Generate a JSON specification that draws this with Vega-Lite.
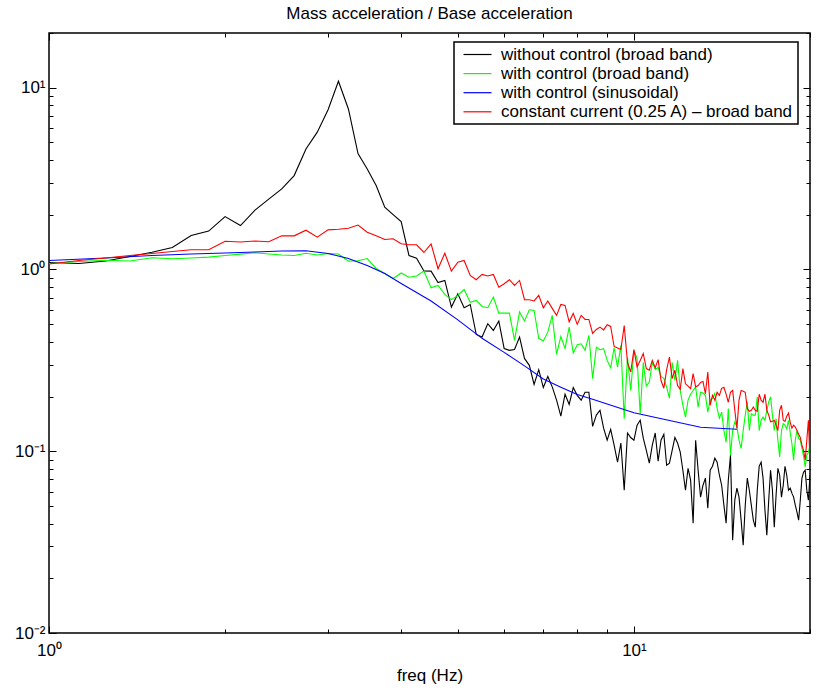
{
"$schema": "https://vega.github.io/schema/vega-lite/v6.json",
"width": 761, "height": 600,
"autosize": {"type": "none"},
"padding": {"left": 49, "top": 33, "right": 7, "bottom": 65},
"background": "white",
"title": {"text": "Mass acceleration / Base acceleration", "fontSize": 17, "font": "Liberation Sans", "fontWeight": "normal", "color": "black", "anchor": "middle", "offset": 10},
"data": {"values": [
{"s":"k","f":1,"v":1.093},{"s":"k","f":1.125,"v":1.079},{"s":"k","f":1.25,"v":1.113},{"s":"k","f":1.375,"v":1.179},{"s":"k","f":1.5,"v":1.245},{"s":"k","f":1.625,"v":1.321},{"s":"k","f":1.75,"v":1.537},{"s":"k","f":1.875,"v":1.627},
{"s":"k","f":2,"v":1.955},{"s":"k","f":2.125,"v":1.745},{"s":"k","f":2.25,"v":2.123},{"s":"k","f":2.375,"v":2.44},{"s":"k","f":2.5,"v":2.776},{"s":"k","f":2.625,"v":3.285},{"s":"k","f":2.75,"v":4.605},{"s":"k","f":2.875,"v":5.694},
{"s":"k","f":3,"v":7.57},{"s":"k","f":3.125,"v":10.86},{"s":"k","f":3.25,"v":7.64},{"s":"k","f":3.375,"v":4.34},{"s":"k","f":3.5,"v":3.575},{"s":"k","f":3.625,"v":2.894},{"s":"k","f":3.75,"v":2.2},{"s":"k","f":3.875,"v":2.005},
{"s":"k","f":4,"v":1.835},{"s":"k","f":4.125,"v":1.194},{"s":"k","f":4.25,"v":1.154},{"s":"k","f":4.375,"v":0.981},{"s":"k","f":4.5,"v":0.979},{"s":"k","f":4.625,"v":0.848},{"s":"k","f":4.75,"v":0.87},{"s":"k","f":4.875,"v":0.621},
{"s":"k","f":5,"v":0.735},{"s":"k","f":5.125,"v":0.616},{"s":"k","f":5.25,"v":0.642},{"s":"k","f":5.375,"v":0.439},{"s":"k","f":5.5,"v":0.425},{"s":"k","f":5.625,"v":0.503},{"s":"k","f":5.75,"v":0.462},{"s":"k","f":5.875,"v":0.52},
{"s":"k","f":6,"v":0.367},{"s":"k","f":6.125,"v":0.359},{"s":"k","f":6.25,"v":0.363},{"s":"k","f":6.375,"v":0.425},{"s":"k","f":6.5,"v":0.324},{"s":"k","f":6.625,"v":0.297},{"s":"k","f":6.75,"v":0.233},{"s":"k","f":6.875,"v":0.281},
{"s":"k","f":7,"v":0.224},{"s":"k","f":7.125,"v":0.258},{"s":"k","f":7.25,"v":0.226},{"s":"k","f":7.375,"v":0.191},{"s":"k","f":7.5,"v":0.156},{"s":"k","f":7.625,"v":0.206},{"s":"k","f":7.75,"v":0.181},{"s":"k","f":7.875,"v":0.224},
{"s":"k","f":8,"v":0.203},{"s":"k","f":8.125,"v":0.191},{"s":"k","f":8.25,"v":0.211},{"s":"k","f":8.375,"v":0.211},{"s":"k","f":8.5,"v":0.137},{"s":"k","f":8.625,"v":0.158},{"s":"k","f":8.75,"v":0.168},{"s":"k","f":8.875,"v":0.134},
{"s":"k","f":9,"v":0.115},{"s":"k","f":9.125,"v":0.132},{"s":"k","f":9.25,"v":0.108},{"s":"k","f":9.375,"v":0.087},{"s":"k","f":9.5,"v":0.111},{"s":"k","f":9.625,"v":0.061},{"s":"k","f":9.75,"v":0.126},{"s":"k","f":9.875,"v":0.119},
{"s":"k","f":10,"v":0.115},{"s":"k","f":10.125,"v":0.139},{"s":"k","f":10.25,"v":0.148},{"s":"k","f":10.375,"v":0.118},{"s":"k","f":10.5,"v":0.101},{"s":"k","f":10.625,"v":0.086},{"s":"k","f":10.75,"v":0.108},{"s":"k","f":10.875,"v":0.126},
{"s":"k","f":11,"v":0.0881},{"s":"k","f":11.125,"v":0.115},{"s":"k","f":11.25,"v":0.124},{"s":"k","f":11.375,"v":0.0838},{"s":"k","f":11.5,"v":0.086},{"s":"k","f":11.625,"v":0.101},{"s":"k","f":11.75,"v":0.119},{"s":"k","f":11.875,"v":0.111},
{"s":"k","f":12,"v":0.0988},{"s":"k","f":12.125,"v":0.0786},{"s":"k","f":12.25,"v":0.061},{"s":"k","f":12.375,"v":0.0806},{"s":"k","f":12.5,"v":0.0693},{"s":"k","f":12.625,"v":0.0402},{"s":"k","f":12.75,"v":0.115},{"s":"k","f":12.875,"v":0.0786},
{"s":"k","f":13,"v":0.0559},{"s":"k","f":13.125,"v":0.065},{"s":"k","f":13.25,"v":0.0711},{"s":"k","f":13.375,"v":0.0486},{"s":"k","f":13.5,"v":0.0786},{"s":"k","f":13.625,"v":0.0827},{"s":"k","f":13.75,"v":0.0915},{"s":"k","f":13.875,"v":0.087},
{"s":"k","f":14,"v":0.0738},{"s":"k","f":14.125,"v":0.065},{"s":"k","f":14.25,"v":0.0505},{"s":"k","f":14.375,"v":0.0402},{"s":"k","f":14.5,"v":0.0693},{"s":"k","f":14.625,"v":0.0951},{"s":"k","f":14.75,"v":0.0324},{"s":"k","f":14.875,"v":0.0538},
{"s":"k","f":15,"v":0.0626},{"s":"k","f":15.125,"v":0.0559},{"s":"k","f":15.25,"v":0.0418},{"s":"k","f":15.375,"v":0.0304},{"s":"k","f":15.5,"v":0.0505},{"s":"k","f":15.625,"v":0.0711},{"s":"k","f":15.75,"v":0.061},{"s":"k","f":15.875,"v":0.0505},
{"s":"k","f":16,"v":0.0418},{"s":"k","f":16.125,"v":0.0382},{"s":"k","f":16.25,"v":0.061},{"s":"k","f":16.375,"v":0.0827},{"s":"k","f":16.5,"v":0.087},{"s":"k","f":16.625,"v":0.0711},{"s":"k","f":16.75,"v":0.0474},{"s":"k","f":16.875,"v":0.0345},
{"s":"k","f":17,"v":0.0538},{"s":"k","f":17.125,"v":0.0786},{"s":"k","f":17.25,"v":0.061},{"s":"k","f":17.375,"v":0.0382},{"s":"k","f":17.5,"v":0.0573},{"s":"k","f":17.625,"v":0.0806},{"s":"k","f":17.75,"v":0.0738},{"s":"k","f":17.875,"v":0.0559},
{"s":"k","f":18,"v":0.065},{"s":"k","f":18.125,"v":0.0827},{"s":"k","f":18.25,"v":0.0738},{"s":"k","f":18.375,"v":0.061},{"s":"k","f":18.5,"v":0.0626},{"s":"k","f":18.625,"v":0.0588},{"s":"k","f":18.75,"v":0.0559},{"s":"k","f":18.875,"v":0.0505},
{"s":"k","f":19,"v":0.0462},{"s":"k","f":19.125,"v":0.0418},{"s":"k","f":19.25,"v":0.0538},{"s":"k","f":19.375,"v":0.0711},{"s":"k","f":19.5,"v":0.0767},{"s":"k","f":19.625,"v":0.0786},{"s":"k","f":19.75,"v":0.061},{"s":"k","f":19.875,"v":0.0538},
{"s":"k","f":20,"v":0.0738},
{"s":"g","f":1,"v":1.079},{"s":"g","f":1.125,"v":1.106},{"s":"g","f":1.25,"v":1.125},{"s":"g","f":1.375,"v":1.113},{"s":"g","f":1.5,"v":1.16},{"s":"g","f":1.625,"v":1.145},{"s":"g","f":1.75,"v":1.157},{"s":"g","f":1.875,"v":1.169},
{"s":"g","f":2,"v":1.194},{"s":"g","f":2.125,"v":1.214},{"s":"g","f":2.25,"v":1.235},{"s":"g","f":2.375,"v":1.217},{"s":"g","f":2.5,"v":1.201},{"s":"g","f":2.625,"v":1.194},{"s":"g","f":2.75,"v":1.229},{"s":"g","f":2.875,"v":1.201},
{"s":"g","f":3,"v":1.224},{"s":"g","f":3.125,"v":1.217},{"s":"g","f":3.25,"v":1.111},{"s":"g","f":3.375,"v":1.116},{"s":"g","f":3.5,"v":1.149},{"s":"g","f":3.625,"v":1.013},{"s":"g","f":3.75,"v":0.951},{"s":"g","f":3.875,"v":0.892},
{"s":"g","f":4,"v":0.957},{"s":"g","f":4.125,"v":0.907},{"s":"g","f":4.25,"v":0.921},{"s":"g","f":4.375,"v":0.981},{"s":"g","f":4.5,"v":0.793},{"s":"g","f":4.625,"v":0.817},{"s":"g","f":4.75,"v":0.729},{"s":"g","f":4.875,"v":0.682},
{"s":"g","f":5,"v":0.72},{"s":"g","f":5.125,"v":0.776},{"s":"g","f":5.25,"v":0.66},{"s":"g","f":5.375,"v":0.676},{"s":"g","f":5.5,"v":0.626},{"s":"g","f":5.625,"v":0.616},{"s":"g","f":5.75,"v":0.705},{"s":"g","f":5.875,"v":0.575},
{"s":"g","f":6,"v":0.575},{"s":"g","f":6.125,"v":0.575},{"s":"g","f":6.25,"v":0.407},{"s":"g","f":6.375,"v":0.584},{"s":"g","f":6.5,"v":0.52},{"s":"g","f":6.625,"v":0.6},{"s":"g","f":6.75,"v":0.595},{"s":"g","f":6.875,"v":0.418},
{"s":"g","f":7,"v":0.404},{"s":"g","f":7.125,"v":0.452},{"s":"g","f":7.25,"v":0.559},{"s":"g","f":7.375,"v":0.341},{"s":"g","f":7.5,"v":0.428},{"s":"g","f":7.625,"v":0.368},{"s":"g","f":7.75,"v":0.482},{"s":"g","f":7.875,"v":0.347},
{"s":"g","f":8,"v":0.385},{"s":"g","f":8.125,"v":0.39},{"s":"g","f":8.25,"v":0.359},{"s":"g","f":8.375,"v":0.434},{"s":"g","f":8.5,"v":0.251},{"s":"g","f":8.625,"v":0.374},{"s":"g","f":8.75,"v":0.362},{"s":"g","f":8.875,"v":0.367},
{"s":"g","f":9,"v":0.316},{"s":"g","f":9.125,"v":0.288},{"s":"g","f":9.25,"v":0.371},{"s":"g","f":9.375,"v":0.29},{"s":"g","f":9.5,"v":0.382},{"s":"g","f":9.625,"v":0.151},{"s":"g","f":9.75,"v":0.329},{"s":"g","f":9.875,"v":0.216},
{"s":"g","f":10,"v":0.359},{"s":"g","f":10.125,"v":0.324},{"s":"g","f":10.25,"v":0.161},{"s":"g","f":10.375,"v":0.308},{"s":"g","f":10.5,"v":0.228},{"s":"g","f":10.625,"v":0.24},{"s":"g","f":10.75,"v":0.308},{"s":"g","f":10.875,"v":0.282},
{"s":"g","f":11,"v":0.289},{"s":"g","f":11.125,"v":0.258},{"s":"g","f":11.25,"v":0.252},{"s":"g","f":11.375,"v":0.225},{"s":"g","f":11.5,"v":0.196},{"s":"g","f":11.625,"v":0.308},{"s":"g","f":11.75,"v":0.245},{"s":"g","f":11.875,"v":0.316},
{"s":"g","f":12,"v":0.216},{"s":"g","f":12.125,"v":0.179},{"s":"g","f":12.25,"v":0.154},{"s":"g","f":12.375,"v":0.191},{"s":"g","f":12.5,"v":0.206},{"s":"g","f":12.625,"v":0.216},{"s":"g","f":12.75,"v":0.226},{"s":"g","f":12.875,"v":0.175},
{"s":"g","f":13,"v":0.211},{"s":"g","f":13.125,"v":0.209},{"s":"g","f":13.25,"v":0.203},{"s":"g","f":13.375,"v":0.164},{"s":"g","f":13.5,"v":0.191},{"s":"g","f":13.625,"v":0.196},{"s":"g","f":13.75,"v":0.208},{"s":"g","f":13.875,"v":0.172},
{"s":"g","f":14,"v":0.152},{"s":"g","f":14.125,"v":0.164},{"s":"g","f":14.25,"v":0.13},{"s":"g","f":14.375,"v":0.112},{"s":"g","f":14.5,"v":0.172},{"s":"g","f":14.625,"v":0.0951},{"s":"g","f":14.75,"v":0.13},{"s":"g","f":14.875,"v":0.145},
{"s":"g","f":15,"v":0.136},{"s":"g","f":15.125,"v":0.115},{"s":"g","f":15.25,"v":0.1035},{"s":"g","f":15.375,"v":0.13},{"s":"g","f":15.5,"v":0.158},{"s":"g","f":15.625,"v":0.187},{"s":"g","f":15.75,"v":0.13},{"s":"g","f":15.875,"v":0.161},
{"s":"g","f":16,"v":0.158},{"s":"g","f":16.125,"v":0.158},{"s":"g","f":16.25,"v":0.199},{"s":"g","f":16.375,"v":0.13},{"s":"g","f":16.5,"v":0.148},{"s":"g","f":16.625,"v":0.154},{"s":"g","f":16.75,"v":0.148},{"s":"g","f":16.875,"v":0.168},
{"s":"g","f":17,"v":0.187},{"s":"g","f":17.125,"v":0.199},{"s":"g","f":17.25,"v":0.158},{"s":"g","f":17.375,"v":0.13},{"s":"g","f":17.5,"v":0.151},{"s":"g","f":17.625,"v":0.115},{"s":"g","f":17.75,"v":0.093},{"s":"g","f":17.875,"v":0.13},
{"s":"g","f":18,"v":0.142},{"s":"g","f":18.125,"v":0.139},{"s":"g","f":18.25,"v":0.133},{"s":"g","f":18.375,"v":0.148},{"s":"g","f":18.5,"v":0.127},{"s":"g","f":18.625,"v":0.11},{"s":"g","f":18.75,"v":0.0892},{"s":"g","f":18.875,"v":0.115},
{"s":"g","f":19,"v":0.13},{"s":"g","f":19.125,"v":0.118},{"s":"g","f":19.25,"v":0.115},{"s":"g","f":19.375,"v":0.104},{"s":"g","f":19.5,"v":0.0938},{"s":"g","f":19.625,"v":0.082},{"s":"g","f":19.75,"v":0.0951},{"s":"g","f":19.875,"v":0.0988},
{"s":"g","f":20,"v":0.108},
{"s":"b","f":1,"v":1.121},{"s":"b","f":1.25,"v":1.157},{"s":"b","f":1.5,"v":1.194},{"s":"b","f":1.75,"v":1.217},{"s":"b","f":2,"v":1.232},{"s":"b","f":2.25,"v":1.248},{"s":"b","f":2.5,"v":1.264},{"s":"b","f":2.75,"v":1.267},
{"s":"b","f":3,"v":1.224},{"s":"b","f":3.25,"v":1.149},{"s":"b","f":3.5,"v":1.052},{"s":"b","f":3.75,"v":0.951},{"s":"b","f":4,"v":0.838},{"s":"b","f":4.5,"v":0.671},{"s":"b","f":5,"v":0.528},{"s":"b","f":5.5,"v":0.418},
{"s":"b","f":6,"v":0.35},{"s":"b","f":6.5,"v":0.295},{"s":"b","f":7,"v":0.25},{"s":"b","f":7.5,"v":0.225},{"s":"b","f":8,"v":0.205},{"s":"b","f":8.5,"v":0.193},{"s":"b","f":9,"v":0.182},{"s":"b","f":9.5,"v":0.172},
{"s":"b","f":10,"v":0.163},{"s":"b","f":13,"v":0.1355},{"s":"b","f":15,"v":0.132},
{"s":"r","f":1,"v":1.072},{"s":"r","f":1.125,"v":1.121},{"s":"r","f":1.25,"v":1.157},{"s":"r","f":1.375,"v":1.194},{"s":"r","f":1.5,"v":1.224},{"s":"r","f":1.625,"v":1.256},{"s":"r","f":1.75,"v":1.283},{"s":"r","f":1.875,"v":1.285},
{"s":"r","f":2,"v":1.43},{"s":"r","f":2.125,"v":1.416},{"s":"r","f":2.25,"v":1.434},{"s":"r","f":2.375,"v":1.421},{"s":"r","f":2.5,"v":1.531},{"s":"r","f":2.625,"v":1.531},{"s":"r","f":2.75,"v":1.644},{"s":"r","f":2.875,"v":1.505},
{"s":"r","f":3,"v":1.652},{"s":"r","f":3.125,"v":1.665},{"s":"r","f":3.25,"v":1.686},{"s":"r","f":3.375,"v":1.756},{"s":"r","f":3.5,"v":1.603},{"s":"r","f":3.625,"v":1.531},{"s":"r","f":3.75,"v":1.462},{"s":"r","f":3.875,"v":1.476},
{"s":"r","f":4,"v":1.384},{"s":"r","f":4.125,"v":1.367},{"s":"r","f":4.25,"v":1.367},{"s":"r","f":4.375,"v":1.24},{"s":"r","f":4.5,"v":1.384},{"s":"r","f":4.625,"v":1.009},{"s":"r","f":4.75,"v":1.229},{"s":"r","f":4.875,"v":0.979},
{"s":"r","f":5,"v":1.097},{"s":"r","f":5.125,"v":1.121},{"s":"r","f":5.25,"v":0.927},{"s":"r","f":5.375,"v":0.878},{"s":"r","f":5.5,"v":0.939},{"s":"r","f":5.625,"v":0.921},{"s":"r","f":5.75,"v":0.939},{"s":"r","f":5.875,"v":0.799},
{"s":"r","f":6,"v":0.834},{"s":"r","f":6.125,"v":0.878},{"s":"r","f":6.25,"v":0.817},{"s":"r","f":6.375,"v":0.87},{"s":"r","f":6.5,"v":0.682},{"s":"r","f":6.625,"v":0.681},{"s":"r","f":6.75,"v":0.671},{"s":"r","f":6.875,"v":0.72},
{"s":"r","f":7,"v":0.616},{"s":"r","f":7.125,"v":0.671},{"s":"r","f":7.25,"v":0.611},{"s":"r","f":7.375,"v":0.559},{"s":"r","f":7.5,"v":0.642},{"s":"r","f":7.625,"v":0.634},{"s":"r","f":7.75,"v":0.515},{"s":"r","f":7.875,"v":0.573},
{"s":"r","f":8,"v":0.499},{"s":"r","f":8.125,"v":0.559},{"s":"r","f":8.25,"v":0.531},{"s":"r","f":8.375,"v":0.531},{"s":"r","f":8.5,"v":0.445},{"s":"r","f":8.625,"v":0.468},{"s":"r","f":8.75,"v":0.482},{"s":"r","f":8.875,"v":0.465},
{"s":"r","f":9,"v":0.497},{"s":"r","f":9.125,"v":0.486},{"s":"r","f":9.25,"v":0.377},{"s":"r","f":9.375,"v":0.37},{"s":"r","f":9.5,"v":0.363},{"s":"r","f":9.625,"v":0.492},{"s":"r","f":9.75,"v":0.308},{"s":"r","f":9.875,"v":0.273},
{"s":"r","f":10,"v":0.362},{"s":"r","f":10.125,"v":0.291},{"s":"r","f":10.25,"v":0.316},{"s":"r","f":10.375,"v":0.345},{"s":"r","f":10.5,"v":0.285},{"s":"r","f":10.625,"v":0.279},{"s":"r","f":10.75,"v":0.316},{"s":"r","f":10.875,"v":0.288},
{"s":"r","f":11,"v":0.319},{"s":"r","f":11.125,"v":0.245},{"s":"r","f":11.25,"v":0.222},{"s":"r","f":11.375,"v":0.281},{"s":"r","f":11.5,"v":0.33},{"s":"r","f":11.625,"v":0.251},{"s":"r","f":11.75,"v":0.279},{"s":"r","f":11.875,"v":0.23},
{"s":"r","f":12,"v":0.219},{"s":"r","f":12.125,"v":0.285},{"s":"r","f":12.25,"v":0.235},{"s":"r","f":12.375,"v":0.228},{"s":"r","f":12.5,"v":0.221},{"s":"r","f":12.625,"v":0.267},{"s":"r","f":12.75,"v":0.226},{"s":"r","f":12.875,"v":0.23},
{"s":"r","f":13,"v":0.239},{"s":"r","f":13.125,"v":0.242},{"s":"r","f":13.25,"v":0.207},{"s":"r","f":13.375,"v":0.273},{"s":"r","f":13.5,"v":0.179},{"s":"r","f":13.625,"v":0.203},{"s":"r","f":13.75,"v":0.191},{"s":"r","f":13.875,"v":0.211},
{"s":"r","f":14,"v":0.203},{"s":"r","f":14.125,"v":0.222},{"s":"r","f":14.25,"v":0.225},{"s":"r","f":14.375,"v":0.206},{"s":"r","f":14.5,"v":0.186},{"s":"r","f":14.625,"v":0.211},{"s":"r","f":14.75,"v":0.216},{"s":"r","f":14.875,"v":0.168},
{"s":"r","f":15,"v":0.134},{"s":"r","f":15.125,"v":0.191},{"s":"r","f":15.25,"v":0.216},{"s":"r","f":15.375,"v":0.214},{"s":"r","f":15.5,"v":0.211},{"s":"r","f":15.625,"v":0.172},{"s":"r","f":15.75,"v":0.166},{"s":"r","f":15.875,"v":0.168},
{"s":"r","f":16,"v":0.175},{"s":"r","f":16.125,"v":0.168},{"s":"r","f":16.25,"v":0.166},{"s":"r","f":16.375,"v":0.206},{"s":"r","f":16.5,"v":0.191},{"s":"r","f":16.625,"v":0.186},{"s":"r","f":16.75,"v":0.206},{"s":"r","f":16.875,"v":0.168},
{"s":"r","f":17,"v":0.158},{"s":"r","f":17.125,"v":0.145},{"s":"r","f":17.25,"v":0.146},{"s":"r","f":17.375,"v":0.148},{"s":"r","f":17.5,"v":0.139},{"s":"r","f":17.625,"v":0.13},{"s":"r","f":17.75,"v":0.168},{"s":"r","f":17.875,"v":0.179},
{"s":"r","f":18,"v":0.148},{"s":"r","f":18.125,"v":0.146},{"s":"r","f":18.25,"v":0.156},{"s":"r","f":18.375,"v":0.162},{"s":"r","f":18.5,"v":0.144},{"s":"r","f":18.625,"v":0.134},{"s":"r","f":18.75,"v":0.139},{"s":"r","f":18.875,"v":0.136},
{"s":"r","f":19,"v":0.13},{"s":"r","f":19.125,"v":0.124},{"s":"r","f":19.25,"v":0.119},{"s":"r","f":19.375,"v":0.108},{"s":"r","f":19.5,"v":0.101},{"s":"r","f":19.625,"v":0.0892},{"s":"r","f":19.75,"v":0.115},{"s":"r","f":19.875,"v":0.148},
{"s":"r","f":20,"v":0.0892}
]},
"layer": [
{"mark": {"type": "line", "strokeWidth": 1.1, "clip": true},
 "encoding": {
  "x": {"field": "f", "type": "quantitative", "scale": {"type": "log", "domain": [1, 20], "nice": false},
        "axis": {"orient": "bottom", "values": [1, 10], "ticks": false, "domain": false, "grid": false, "labelExpr": "datum.value < 5 ? '10⁰' : '10¹'", "labelPadding": 9, "labelFlush": false, "labelOverlap": false, "title": "freq (Hz)", "titlePadding": 9}},
  "y": {"field": "v", "type": "quantitative", "scale": {"type": "log", "domain": [0.01, 20], "nice": false},
        "axis": {"orient": "left", "values": [0.01, 0.1, 1, 10], "ticks": false, "domain": false, "grid": false, "labelExpr": "datum.value >= 5 ? '10¹' : datum.value >= 0.5 ? '10⁰' : datum.value >= 0.05 ? '10⁻¹' : '10⁻²'", "labelPadding": 4, "labelFlush": false, "labelOverlap": false, "title": null}},
  "color": {"field": "s", "type": "nominal", "scale": {"domain": ["k", "g", "b", "r"], "range": ["#000000", "#00ff00", "#0000ff", "#ff0000"]},
        "legend": {"title": null, "orient": "none", "legendX": 405, "legendY": 9, "direction": "vertical", "symbolType": "M-2,0H2", "symbolSize": 196, "symbolStrokeWidth": 1.2, "symbolOffset": 11, "labelFontSize": 17, "labelFont": "Liberation Sans", "labelColor": "black", "labelLimit": 500, "labelOffset": 15, "padding": 4, "rowPadding": 1.1, "strokeColor": "black", "fillColor": "white",
          "labelExpr": "datum.value == 'k' ? 'without control (broad band)' : datum.value == 'g' ? 'with control (broad band)' : datum.value == 'b' ? 'with control (sinusoidal)' : 'constant current (0.25 A) – broad band'"}}
 }},
{"mark": {"type": "point", "opacity": 0, "size": 0},
 "encoding": {
  "x": {"field": "f", "type": "quantitative", "scale": {"type": "log", "domain": [1, 20], "nice": false},
        "axis": {"orient": "bottom", "values": [1, 10], "tickSize": -7, "labels": false, "domain": false, "grid": false, "title": null}},
  "y": {"field": "v", "type": "quantitative", "scale": {"type": "log", "domain": [0.01, 20], "nice": false},
        "axis": {"orient": "left", "values": [0.01, 0.1, 1, 10], "tickSize": -7, "labels": false, "domain": false, "grid": false, "title": null}}
 }},
{"mark": {"type": "point", "opacity": 0, "size": 0},
 "encoding": {
  "x": {"field": "f", "type": "quantitative", "scale": {"type": "log", "domain": [1, 20], "nice": false},
        "axis": {"orient": "bottom", "values": [2, 3, 4, 5, 6, 7, 8, 9, 20], "tickSize": -4, "labels": false, "domain": false, "grid": false, "title": null}},
  "y": {"field": "v", "type": "quantitative", "scale": {"type": "log", "domain": [0.01, 20], "nice": false},
        "axis": {"orient": "left", "values": [0.02, 0.03, 0.04, 0.05, 0.06, 0.07, 0.08, 0.09, 0.2, 0.3, 0.4, 0.5, 0.6, 0.7, 0.8, 0.9, 2, 3, 4, 5, 6, 7, 8, 9, 20], "tickSize": -4, "labels": false, "domain": false, "grid": false, "title": null}}
 }},
{"mark": {"type": "point", "opacity": 0, "size": 0},
 "encoding": {
  "x": {"field": "f", "type": "quantitative", "scale": {"type": "log", "domain": [1, 20], "nice": false},
        "axis": {"orient": "top", "values": [1, 10], "tickSize": -7, "labels": false, "domain": false, "grid": false, "title": null}},
  "y": {"field": "v", "type": "quantitative", "scale": {"type": "log", "domain": [0.01, 20], "nice": false},
        "axis": {"orient": "right", "values": [0.01, 0.1, 1, 10], "tickSize": -7, "labels": false, "domain": false, "grid": false, "title": null}}
 }},
{"mark": {"type": "point", "opacity": 0, "size": 0},
 "encoding": {
  "x": {"field": "f", "type": "quantitative", "scale": {"type": "log", "domain": [1, 20], "nice": false},
        "axis": {"orient": "top", "values": [2, 3, 4, 5, 6, 7, 8, 9, 20], "tickSize": -4, "labels": false, "domain": false, "grid": false, "title": null}},
  "y": {"field": "v", "type": "quantitative", "scale": {"type": "log", "domain": [0.01, 20], "nice": false},
        "axis": {"orient": "right", "values": [0.02, 0.03, 0.04, 0.05, 0.06, 0.07, 0.08, 0.09, 0.2, 0.3, 0.4, 0.5, 0.6, 0.7, 0.8, 0.9, 2, 3, 4, 5, 6, 7, 8, 9, 20], "tickSize": -4, "labels": false, "domain": false, "grid": false, "title": null}}
 }}
],
"resolve": {"axis": {"x": "independent", "y": "independent"}},
"config": {
  "view": {"stroke": "black", "strokeWidth": 1.5},
  "axis": {"labelFont": "Liberation Sans", "labelFontSize": 17, "labelColor": "black", "titleFont": "Liberation Sans", "titleFontSize": 17, "titleFontWeight": "normal", "titleColor": "black", "tickColor": "black", "tickWidth": 1},
  "legend": {"strokeWidth": 1.5}
}
}
